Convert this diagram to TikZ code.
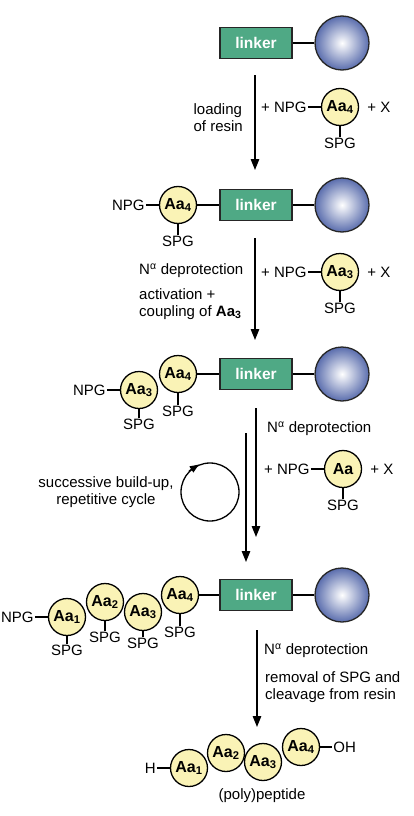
\documentclass[tikz,border=0pt]{standalone}
\usepackage{fontspec}
\setmainfont{Liberation Sans}
\usetikzlibrary{arrows.meta}
\usetikzlibrary{positioning}
\usetikzlibrary{shapes}
\definecolor{aayellow}{HTML}{FAF3B6}
\definecolor{linkgreen}{HTML}{4FA985}
\definecolor{resinblue}{HTML}{5A6DAD}
\tikzset{aa/.style={circle,fill=aayellow,draw=black,line width=1.3pt,
minimum size=37pt, inner sep=0pt, font=\fontsize{16}{16}\selectfont\bfseries},
linker/.style={rectangle,fill=linkgreen,draw=black!85,line width=1.3pt,
minimum width=72pt, minimum height=31pt, text=white,
font=\fontsize{15.5}{16}\selectfont\bfseries},
resin/.style={circle,draw=black!85,line width=1.3pt,minimum size=54pt,
inner color=white, outer color=resinblue},
lbl/.style={inner sep=1pt, font=\fontsize{15}{17}\selectfont},
bond/.style={line width=1.3pt},
>={Triangle[length=11pt,width=8.5pt]}}
\newcommand{\Nalpha}{N\textsuperscript{α}}

\begin{document}
\begin{tikzpicture}[x=1pt,y=-1pt]
    \useasboundingbox (0,0) rectangle (413,816);

    % resin, loading
    \node (link1) [linker] at (256,43) {linker};
    \node (res1) [resin] at (342,43) {};

    \coordinate (s1) at (255,75);
    \coordinate (e1) at (255,170);
    \node (load) [lbl, align=left, anchor=east] at (244,118) {loading\\of resin};

    \node (r1aa) [aa] at (340,107) {Aa\textsubscript{4}};
    \node (r1npg) [lbl, left = 13pt of r1aa] {+ NPG};
    \node (r1x) [lbl, right = 7pt of r1aa] {+ X};
    \node (r1spg) [lbl, below = 11pt of r1aa] {SPG};

    % Aa4 on resin
    \node (aa4b) [aa] at (178,205) {Aa\textsubscript{4}};
    \node (npgb) [lbl, left = 13pt of aa4b] {NPG};
    \node (spgb) [lbl, below = 11pt of aa4b] {SPG};
    \node (link2) [linker] at (256,205) {linker};
    \node (res2) [resin] at (342,205) {};

    \coordinate (s2) at (255,238);
    \coordinate (e2) at (255,340);
    \node (dep2) [lbl, anchor=west] at (138,271) {\Nalpha{} deprotection};
    \node (act2) [lbl, anchor=west, align=left] at (138,304) {activation +\\coupling of \textbf{Aa\textsubscript{3}}};

    \node (r2aa) [aa] at (340,272) {Aa\textsubscript{3}};
    \node (r2npg) [lbl, left = 13pt of r2aa] {+ NPG};
    \node (r2x) [lbl, right = 7pt of r2aa] {+ X};
    \node (r2spg) [lbl, below = 11pt of r2aa] {SPG};

    % Aa3-Aa4 on resin
    \node (aa3c) [aa] at (139,390) {Aa\textsubscript{3}};
    \node (aa4c) [aa] at (178,374) {Aa\textsubscript{4}};
    \node (npgc) [lbl, left = 13pt of aa3c] {NPG};
    \node (spg3c) [lbl, below = 9pt of aa3c] {SPG};
    \node (spg4c) [lbl, below = 12pt of aa4c] {SPG};
    \node (link3) [linker] at (256,374) {linker};
    \node (res3) [resin] at (342,374) {};

    \coordinate (s3) at (256,408);
    \coordinate (e3) at (256,537);
    \coordinate (s3b) at (246,433);
    \coordinate (e3b) at (246,562);
    \node (dep3) [lbl, anchor=west] at (266,429) {\Nalpha{} deprotection};

    \node (r3aa) [aa] at (343,469) {Aa};
    \node (r3npg) [lbl, left = 13pt of r3aa] {+ NPG};
    \node (r3x) [lbl, right = 7pt of r3aa] {+ X};
    \node (r3spg) [lbl, below = 11pt of r3aa] {SPG};

    \node (cycle) [circle, draw, line width=1.3pt, minimum size=58pt] at (210,492) {};
    \node (cyctext) [lbl, align=center] at (106,492) {successive build-up,\\repetitive cycle};

    % Aa1-Aa4 on resin
    \node (aa1d) [aa] at (67,617) {Aa\textsubscript{1}};
    \node (aa2d) [aa] at (105,602) {Aa\textsubscript{2}};
    \node (aa3d) [aa] at (143,612) {Aa\textsubscript{3}};
    \node (aa4d) [aa] at (180,595) {Aa\textsubscript{4}};
    \node (npgd) [lbl, left = 13pt of aa1d] {NPG};
    \node (spg1d) [lbl, below = 8pt of aa1d] {SPG};
    \node (spg2d) [lbl, below = 10pt of aa2d] {SPG};
    \node (spg3d) [lbl, below = 6pt of aa3d] {SPG};
    \node (spg4d) [lbl, below = 12pt of aa4d] {SPG};
    \node (link4) [linker] at (256,595) {linker};
    \node (res4) [resin] at (342,595) {};

    \coordinate (s4) at (257,630);
    \coordinate (e4) at (257,727);
    \node (dep4) [lbl, anchor=west] at (263,651) {\Nalpha{} deprotection};
    \node (rem4) [lbl, anchor=west, align=left] at (264,687) {removal of SPG and\\cleavage from resin};

    % peptide
    \node (p1) [aa] at (189,768) {Aa\textsubscript{1}};
    \node (p2) [aa] at (226,753) {Aa\textsubscript{2}};
    \node (p3) [aa] at (263,762) {Aa\textsubscript{3}};
    \node (p4) [aa] at (301,747) {Aa\textsubscript{4}};
    \node (hterm) [lbl, left = 13pt of p1] {H};
    \node (oh) [lbl, right = 12pt of p4] {OH};
    \node (pept) [lbl] at (262,796) {(poly)peptide};

    \draw [bond] (link1) -- (res1);
    \draw [bond,->] (s1) -- (e1);
    \draw [bond] (r1npg) -- (r1aa);
    \draw [bond] (r1aa) -- (r1spg);

    \draw [bond] (npgb) -- (aa4b) -- (link2) -- (res2);
    \draw [bond] (aa4b) -- (spgb);
    \draw [bond,->] (s2) -- (e2);
    \draw [bond] (r2npg) -- (r2aa);
    \draw [bond] (r2aa) -- (r2spg);

    \draw [bond] (npgc) -- (aa3c);
    \draw [bond] (aa4c) -- (link3) -- (res3);
    \draw [bond] (aa3c) -- (spg3c);
    \draw [bond] (aa4c) -- (spg4c);
    \draw [bond,->] (s3) -- (e3);
    \draw [bond,->] (s3b) -- (e3b);
    \draw [bond] (r3npg) -- (r3aa);
    \draw [bond] (r3aa) -- (r3spg);
    \draw [bond,-{Triangle[length=9pt,width=7pt]}] (cycle.135) -- (cycle.112);

    \draw [bond] (npgd) -- (aa1d);
    \draw [bond] (aa4d) -- (link4) -- (res4);
    \draw [bond] (aa1d) -- (spg1d);
    \draw [bond] (aa2d) -- (spg2d);
    \draw [bond] (aa3d) -- (spg3d);
    \draw [bond] (aa4d) -- (spg4d);
    \draw [bond,->] (s4) -- (e4);

    \draw [bond] (hterm) -- (p1);
    \draw [bond] (p4) -- (oh);

\end{tikzpicture}
\end{document}
